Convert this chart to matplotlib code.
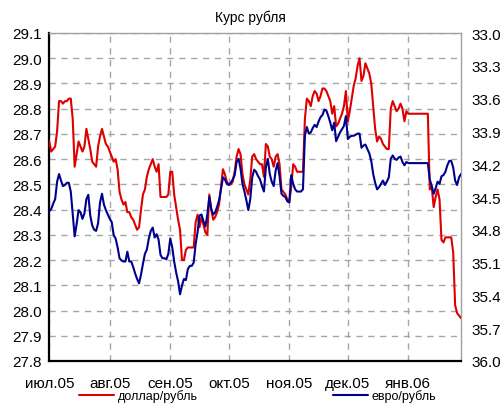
import matplotlib
matplotlib.use('Agg')
import matplotlib.pyplot as plt
import pandas as pd
from matplotlib.ticker import FormatStrFormatter

plt.rcParams['font.family'] = ['Liberation Sans', 'DejaVu Sans']
plt.rcParams['lines.scale_dashes'] = False

title = 'Курс рубля'
dates = pd.date_range('2005-07-01', '2006-01-28', freq='D')

usd = [28.67, 28.63, 28.64, 28.65, 28.71, 28.83, 28.83, 28.82, 28.83, 28.83,
       28.84, 28.84, 28.76, 28.57, 28.62, 28.67, 28.65, 28.63, 28.65, 28.72,
       28.68, 28.64, 28.59, 28.58, 28.57, 28.65, 28.69, 28.72, 28.69, 28.66,
       28.65, 28.63, 28.61, 28.59, 28.60, 28.56, 28.47, 28.44, 28.42, 28.43,
       28.39, 28.39, 28.37, 28.36, 28.34, 28.32, 28.33, 28.40, 28.46, 28.48,
       28.53, 28.56, 28.58, 28.60, 28.57, 28.55, 28.58, 28.45, 28.45, 28.45,
       28.45, 28.46, 28.55, 28.55, 28.46, 28.41, 28.36, 28.32, 28.20, 28.20,
       28.24, 28.25, 28.25, 28.25, 28.25, 28.35, 28.38, 28.33, 28.37, 28.34,
       28.31, 28.30, 28.46, 28.40, 28.36, 28.37, 28.39, 28.42, 28.49, 28.56,
       28.54, 28.51, 28.50, 28.50, 28.51, 28.55, 28.61, 28.64, 28.62, 28.54,
       28.50, 28.48, 28.46, 28.52, 28.61, 28.62, 28.60, 28.59, 28.58, 28.58,
       28.53, 28.66, 28.65, 28.61, 28.60, 28.57, 28.61, 28.62, 28.58, 28.48,
       28.47, 28.46, 28.44, 28.43, 28.49, 28.58, 28.57, 28.55, 28.55, 28.55,
       28.55, 28.76, 28.84, 28.83, 28.81, 28.85, 28.87, 28.86, 28.83, 28.85,
       28.88, 28.88, 28.87, 28.85, 28.83, 28.78, 28.81, 28.73, 28.74, 28.76,
       28.78, 28.81, 28.87, 28.75, 28.79, 28.84, 28.89, 28.92, 28.97, 29.00,
       28.91, 28.93, 28.98, 28.96, 28.94, 28.90, 28.81, 28.72, 28.67, 28.69,
       28.68, 28.66, 28.65, 28.64, 28.64, 28.80, 28.83, 28.81, 28.79, 28.80,
       28.82, 28.80, 28.75, 28.79,
       28.78, 28.78, 28.78, 28.78, 28.78, 28.78, 28.78, 28.78, 28.78, 28.78, 28.78,
       28.48, 28.49, 28.41, 28.45, 28.48, 28.44, 28.28, 28.27, 28.29, 28.29,
       28.29, 28.29, 28.23, 28.02, 27.99, 27.98, 27.97]

eur = [34.63, 34.61, 34.56, 34.52, 34.36, 34.29, 34.35, 34.40, 34.39, 34.37,
       34.37, 34.45, 34.66, 34.86, 34.75, 34.62, 34.64, 34.70, 34.65, 34.52,
       34.48, 34.67, 34.76, 34.80, 34.81, 34.74, 34.55, 34.47, 34.57, 34.62,
       34.66, 34.70, 34.73, 34.85, 34.88, 34.96, 35.06, 35.08, 35.09, 35.09,
       35.00, 35.09, 35.09, 35.14, 35.20, 35.25, 35.29, 35.21, 35.11, 35.02,
       34.98, 34.88, 34.81, 34.78, 34.87, 34.84, 34.89, 35.03, 35.06, 35.06,
       35.07, 35.02, 34.88, 34.96, 35.09, 35.19, 35.27, 35.39, 35.31, 35.25,
       35.26, 35.16, 35.13, 35.13, 35.10, 34.93, 34.82, 34.67, 34.66, 34.72,
       34.77, 34.66, 34.50, 34.61, 34.66, 34.64, 34.59, 34.53, 34.43, 34.32,
       34.34, 34.38, 34.39, 34.37, 34.34, 34.30, 34.18, 34.15, 34.24, 34.38,
       34.45, 34.53, 34.62, 34.52, 34.32, 34.25, 34.27, 34.31, 34.34, 34.40,
       34.45, 34.23, 34.15, 34.29, 34.36, 34.40, 34.26, 34.19, 34.31, 34.47,
       34.49, 34.50, 34.54, 34.55, 34.30, 34.38, 34.43, 34.45, 34.45, 34.45,
       34.43, 33.94, 33.86, 33.92, 33.91, 33.87, 33.84, 33.86, 33.81, 33.77,
       33.75, 33.70, 33.71, 33.76, 33.82, 33.89, 33.82, 33.99, 33.95, 33.91,
       33.88, 33.85, 33.76, 33.97, 33.95, 33.94, 33.94, 33.93, 33.92, 33.92,
       34.05, 34.03, 34.02, 34.06, 34.10, 34.17, 34.29, 34.37, 34.43, 34.41,
       34.38, 34.35, 34.39, 34.36, 34.32, 34.15, 34.12, 34.15, 34.16, 34.14,
       34.13, 34.18, 34.21, 34.18,
       34.19, 34.19, 34.19, 34.19, 34.19, 34.19, 34.19, 34.19, 34.19, 34.19, 34.19,
       34.34, 34.40, 34.47, 34.42, 34.36, 34.38, 34.31, 34.30, 34.27, 34.21,
       34.17, 34.17, 34.23, 34.35, 34.39, 34.32, 34.29]

month_ticks = ['2005-07-01', '2005-08-01', '2005-09-01', '2005-10-01',
               '2005-11-01', '2005-12-01', '2006-01-01']
month_labels = ['июл.05', 'авг.05', 'сен.05', 'окт.05', 'ноя.05', 'дек.05', 'янв.06']
left_ticks = [27.8, 27.9, 28.0, 28.1, 28.2, 28.3, 28.4, 28.5, 28.6, 28.7, 28.8, 28.9, 29.0, 29.1]
right_ticks = [33.0, 33.3, 33.6, 33.9, 34.2, 34.5, 34.8, 35.1, 35.4, 35.7, 36.0]
series_names = ['доллар/рубль', 'евро/рубль']

RED = '#dc0000'
BLUE = '#00008f'
GRID = '#a6a6a6'

W, H = 501, 406
fig = plt.figure(figsize=(W / 100, H / 100), dpi=100)
L, R, T, B = 49.3, 461, 34, 362
ax = fig.add_axes([L / W, 1 - B / H, (R - L) / W, (B - T) / H])

ln1, = ax.plot(dates, usd, color=RED, lw=1.5, zorder=3,
               solid_joinstyle='round', solid_capstyle='round')
ax.set_xlim(dates[0], dates[-1])
ax.set_ylim(27.8, 29.1)
ax.set_yticks(left_ticks)
ax.yaxis.set_major_formatter(FormatStrFormatter('%.1f'))
ax.set_xticks(pd.to_datetime(month_ticks))
ax.set_xticklabels(month_labels)
ax.tick_params(axis='y', length=0, labelsize=11, pad=5.5, colors='black')
ax.tick_params(axis='x', length=0, labelsize=11, pad=11)
ax.grid(True, color=GRID, lw=1.0, ls=(0, (4.5, 4.0)))
ax.set_axisbelow(True)

for s in ['top', 'right']:
    ax.spines[s].set_color('#a0a0a0')
    ax.spines[s].set_linewidth(1.0)
for s in ['left', 'bottom']:
    ax.spines[s].set_color('black')
    ax.spines[s].set_linewidth(1.6)

ax2 = ax.twinx()
ln2, = ax2.plot(dates, eur, color=BLUE, lw=1.5,
                solid_joinstyle='round', solid_capstyle='round')
ax2.set_ylim(36.0, 33.0)
ax2.set_yticks(right_ticks)
ax2.yaxis.set_major_formatter(FormatStrFormatter('%.1f'))
ax2.tick_params(axis='y', length=0, labelsize=11, pad=7.5)
for s in ax2.spines.values():
    s.set_visible(False)

fig.text(0.5, 1 - 18 / H, title, ha='center', va='center', fontsize=10)

fig.legend(handles=[ln1], labels=[series_names[0]], loc='center left',
           bbox_to_anchor=(79 / W, 1 - 397 / H), frameon=False, fontsize=9,
           borderaxespad=0, borderpad=0, handlelength=2.8, handletextpad=0.3)
fig.legend(handles=[ln2], labels=[series_names[1]], loc='center left',
           bbox_to_anchor=(333 / W, 1 - 397 / H), frameon=False, fontsize=9,
           borderaxespad=0, borderpad=0, handlelength=2.8, handletextpad=0.3)

fig.savefig('out.png', dpi=100)
